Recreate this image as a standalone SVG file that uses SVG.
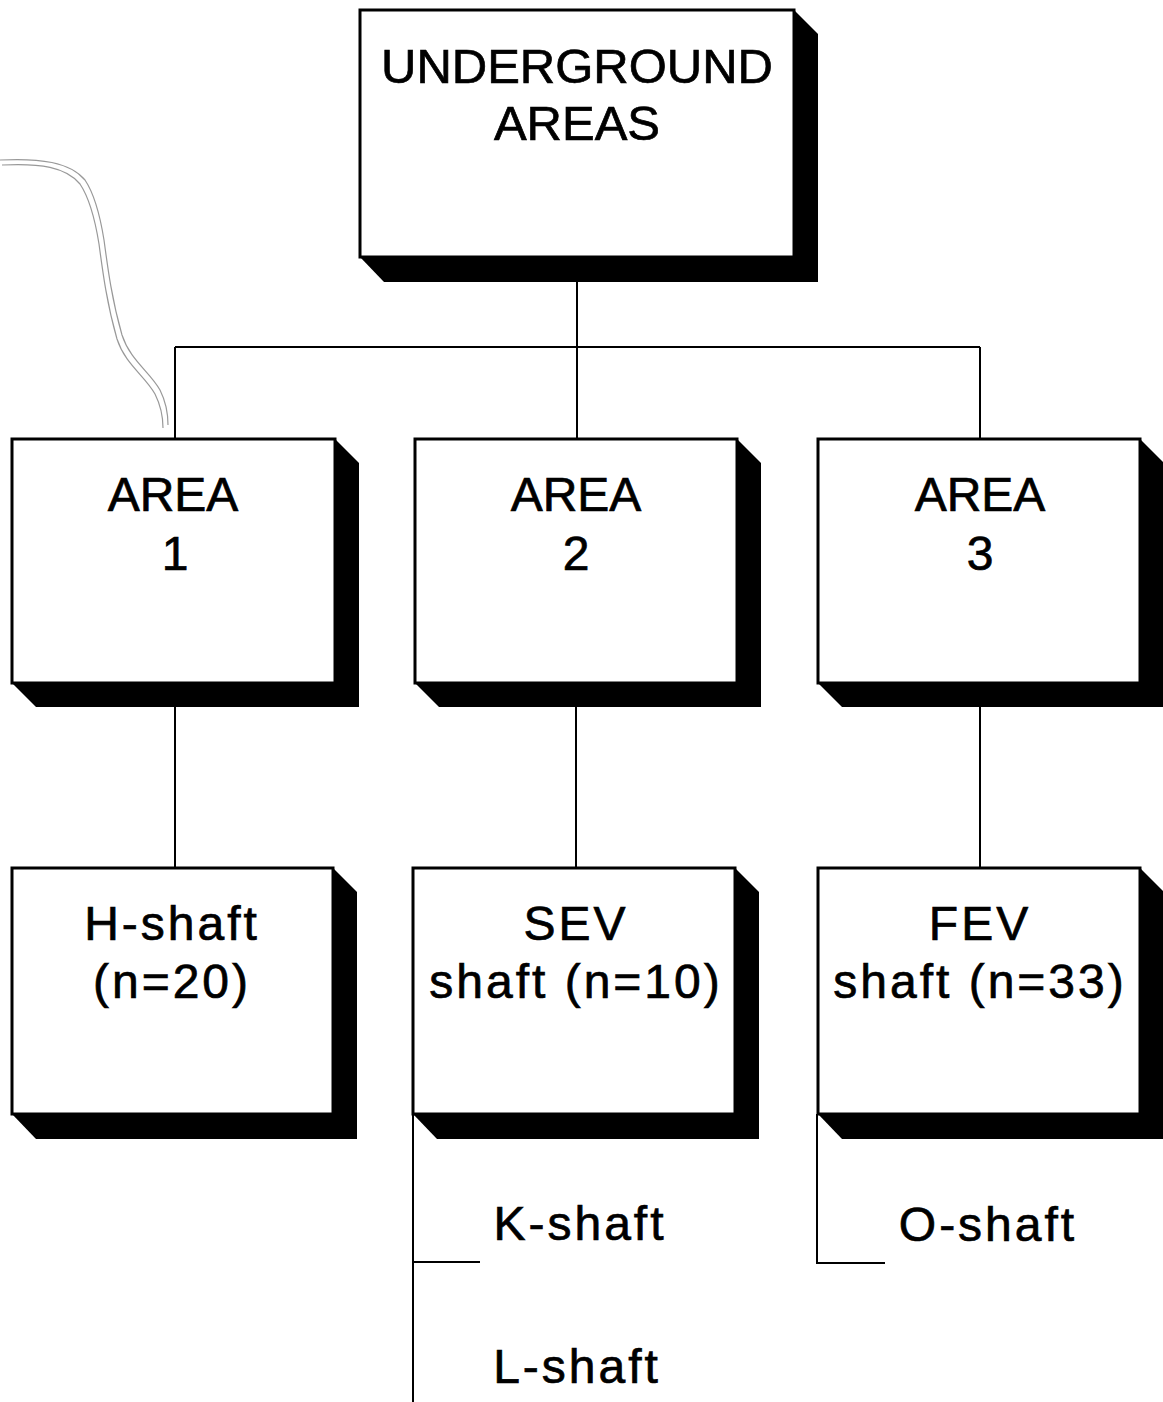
<svg xmlns="http://www.w3.org/2000/svg" width="1163" height="1402" viewBox="0 0 1163 1402">
<style>
.box{fill:#fff;stroke:#000;stroke-width:3}
.sh{fill:#000}
.t{font-family:"Liberation Sans",Arial,Helvetica,sans-serif;font-size:48px;fill:#000;stroke:#000;stroke-width:0.7;text-anchor:middle}
.ls{letter-spacing:3px}
.c{fill:none;stroke:#000;stroke-width:2}
.mark{fill:none;stroke:#999;stroke-width:1.2}
</style>
<rect width="1163" height="1402" fill="#fff"/>
<g id="pencil-mark">
<path class="mark" d="M0,160 C40,158 70,162 85,180 C95,195 100,215 104,240 C108,270 112,300 122,335 C130,360 150,372 160,390 C166,402 168,412 168,425"/>
<path class="mark" d="M2,165 C40,163 66,167 80,184 C90,199 95,219 99,244 C103,274 107,304 117,339 C125,364 145,376 155,394 C161,406 163,416 163,428"/>
</g>
<g id="connectors">
<path class="c" d="M577,282 V347 M175,347 H980 M175,347 V439 M577,347 V439 M980,347 V439"/>
<path class="c" d="M175,707 V868 M576,707 V868 M980,707 V868"/>
<path class="c" d="M413,1114 V1402 M413,1262 H480"/>
<path class="c" d="M817,1114 V1263 H885"/>
</g>
<g id="underground-areas">
<polygon class="sh" points="794,10 818,34 818,282 384,282 360,257"/>
<rect class="box" x="360" y="10" width="434" height="247"/>
<text class="t" x="577" y="83" style="font-size:49px">UNDERGROUND</text>
<text class="t" x="577" y="140" style="font-size:49px">AREAS</text>
</g>
<g id="area1">
<polygon class="sh" points="335,439 359,463 359,707 36,707 12,683"/>
<rect class="box" x="12" y="439" width="323" height="244"/>
<text class="t" x="173" y="511">AREA</text>
<text class="t" x="175" y="570">1</text>
</g>
<g id="area2">
<polygon class="sh" points="737,439 761,463 761,707 439,707 415,683"/>
<rect class="box" x="415" y="439" width="322" height="244"/>
<text class="t" x="576" y="511">AREA</text>
<text class="t" x="576" y="570">2</text>
</g>
<g id="area3">
<polygon class="sh" points="1140,439 1164,463 1164,707 842,707 818,683"/>
<rect class="box" x="818" y="439" width="322" height="244"/>
<text class="t" x="980" y="511">AREA</text>
<text class="t" x="980" y="570">3</text>
</g>
<g id="h-shaft">
<polygon class="sh" points="333,868 357,892 357,1139 36,1139 12,1114"/>
<rect class="box" x="12" y="868" width="321" height="246"/>
<text class="t ls" x="172" y="940">H-shaft</text>
<text class="t ls" x="172" y="998">(n=20)</text>
</g>
<g id="sev-shaft">
<polygon class="sh" points="735,868 759,892 759,1139 437,1139 413,1114"/>
<rect class="box" x="413" y="868" width="322" height="246"/>
<text class="t ls" x="576" y="940">SEV</text>
<text class="t ls" x="576" y="998">shaft (n=10)</text>
</g>
<g id="fev-shaft">
<polygon class="sh" points="1140,868 1164,892 1164,1139 842,1139 818,1114"/>
<rect class="box" x="818" y="868" width="322" height="246"/>
<text class="t ls" x="980" y="940">FEV</text>
<text class="t ls" x="980" y="998">shaft (n=33)</text>
</g>
<g id="k-shaft">
<text class="t ls" x="580" y="1240">K-shaft</text>
</g>
<g id="l-shaft">
<text class="t ls" x="577" y="1383">L-shaft</text>
</g>
<g id="o-shaft">
<text class="t ls" x="988" y="1241">O-shaft</text>
</g>
</svg>
